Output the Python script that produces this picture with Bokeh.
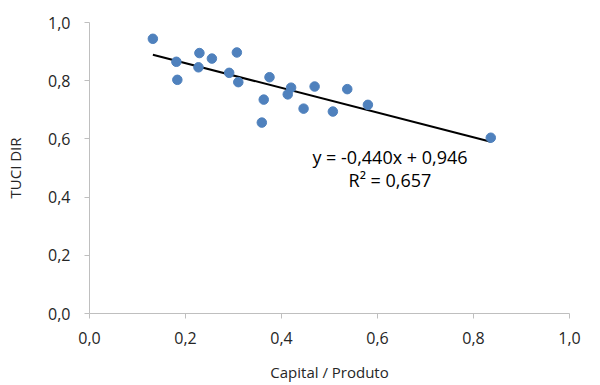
import numpy as np
from bokeh.plotting import figure
from bokeh.models import ColumnDataSource, CustomJSTickFormatter, FixedTicker, Label, Range1d
from bokeh.embed import file_html
from bokeh.resources import INLINE

# Data
capital_produto = [0.132, 0.181, 0.183, 0.229, 0.227, 0.255, 0.307, 0.291, 0.310,
                   0.375, 0.363, 0.359, 0.420, 0.413, 0.469, 0.446, 0.507, 0.537,
                   0.580, 0.836]
tuci_dir = [0.944, 0.865, 0.803, 0.895, 0.846, 0.876, 0.897, 0.827, 0.795,
            0.812, 0.735, 0.656, 0.776, 0.753, 0.780, 0.704, 0.694, 0.771,
            0.717, 0.604]
ticks = [0.0, 0.2, 0.4, 0.6, 0.8, 1.0]
equation_text = "y = -0,440x + 0,946"
r2_text = "R\u00b2 = 0,657"

FONT = "Open Sans"
TXT = "#262626"
AX = "#BFBFBF"

p = figure(width=600, height=385, output_backend="svg", toolbar_location=None,
           x_range=Range1d(0, 1), y_range=Range1d(0, 1),
           min_border_left=89, min_border_right=31, min_border_top=22, min_border_bottom=72)
p.outline_line_color = None
p.xgrid.grid_line_color = None
p.ygrid.grid_line_color = None

fmt = CustomJSTickFormatter(code="return tick.toFixed(1).replace('.', ',');")
for ax in (p.xaxis[0], p.yaxis[0]):
    ax.ticker = FixedTicker(ticks=ticks)
    ax.formatter = fmt
    ax.axis_line_color = AX
    ax.major_tick_line_color = AX
    ax.major_tick_out = 5
    ax.major_tick_in = 0
    ax.minor_tick_line_color = None
    ax.major_label_text_font = FONT
    ax.major_label_text_font_size = "16px"
    ax.major_label_text_color = TXT
    ax.axis_label_text_font = FONT
    ax.axis_label_text_font_size = "15px"
    ax.axis_label_text_font_style = "normal"
    ax.axis_label_text_color = TXT

p.xaxis.axis_label = "Capital / Produto"
p.yaxis.axis_label = "TUCI DIR"
p.xaxis.major_label_standoff = 13
p.xaxis.axis_label_standoff = 15
p.yaxis.major_label_standoff = 14
p.yaxis.axis_label_standoff = 20

# trend line (least squares from data)
xs = np.array(capital_produto)
ys = np.array(tuci_dir)
m, b = np.polyfit(xs, ys, 1)
lx = np.array([xs.min(), xs.max()])
p.line(lx, m * lx + b, line_color="black", line_width=2)

src = ColumnDataSource(dict(x=capital_produto, y=tuci_dir))
p.scatter("x", "y", source=src, size=9.5, fill_color="#4F81BD", line_color="#4F81BD")

p.add_layout(Label(x=0.626, y=0.537, text=equation_text, text_align="center",
                   text_baseline="middle", text_font=FONT, text_font_size="18px",
                   text_color="black"))
p.add_layout(Label(x=0.626, y=0.460, text=r2_text, text_align="center",
                   text_baseline="middle", text_font=FONT, text_font_size="18px",
                   text_color="black"))

open("out.html", "w").write(file_html(p, INLINE))
